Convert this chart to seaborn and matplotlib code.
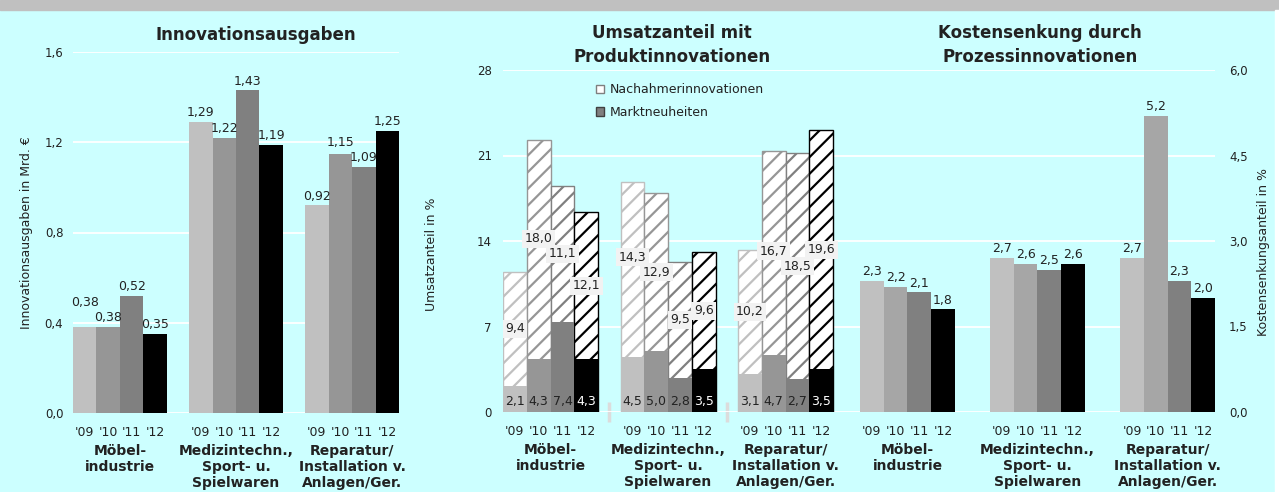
import matplotlib
matplotlib.use("Agg")
import matplotlib.pyplot as plt
import seaborn as sns
import pandas as pd
from matplotlib.patches import Patch, Rectangle
from matplotlib.ticker import FuncFormatter

# --- Daten ---
branchen = ["Möbel-\nindustrie", "Medizintechn.,\nSport- u.\nSpielwaren",
            "Reparatur/\nInstallation v.\nAnlagen/Ger."]
jahre = ["'09", "'10", "'11", "'12"]

# Innovationsausgaben in Mrd. €
inv_moebel = [0.38, 0.38, 0.52, 0.35]
inv_medizin = [1.29, 1.22, 1.43, 1.19]
inv_reparatur = [0.92, 1.15, 1.09, 1.25]

# Umsatzanteil in % (Marktneuheiten unten, Nachahmerinnovationen oben)
markt_moebel = [2.1, 4.3, 7.4, 4.3]
markt_medizin = [4.5, 5.0, 2.8, 3.5]
markt_reparatur = [3.1, 4.7, 2.7, 3.5]
nach_moebel = [9.4, 18.0, 11.1, 12.1]
nach_medizin = [14.3, 12.9, 9.5, 9.6]
nach_reparatur = [10.2, 16.7, 18.5, 19.6]

# Kostensenkungsanteil in %
kost_moebel = [2.3, 2.2, 2.1, 1.8]
kost_medizin = [2.7, 2.6, 2.5, 2.6]
kost_reparatur = [2.7, 5.2, 2.3, 2.0]

farben = ["#C0C0C0", "#969696", "#808080", "#000000"]
farben_rechts = ["#C0C0C0", "#A6A6A6", "#808080", "#000000"]
BG = "#CCFFFF"
TXT = "#222222"

plt.rcParams["font.family"] = ["DejaVu Sans"]
plt.rcParams["hatch.linewidth"] = 1.6


def long_df(**cols):
    rows = []
    for k, b in enumerate(branchen):
        for i, j in enumerate(jahre):
            row = {"branche": b, "jahr": j}
            for name, lists in cols.items():
                row[name] = lists[k][i]
            rows.append(row)
    return pd.DataFrame(rows)


def komma(v, nd=1):
    return f"{v:.{nd}f}".replace(".", ",")


def style_axis(ax):
    ax.set_facecolor("none")
    for s in ax.spines.values():
        s.set_visible(False)
    ax.set_axisbelow(True)
    ax.yaxis.grid(True, color="white", lw=1.3)
    ax.xaxis.grid(False)
    ax.set_xlabel("")
    ax.tick_params(axis="y", length=0, labelsize=8.5, labelcolor=TXT)
    ax.tick_params(axis="x", length=0, pad=22, labelsize=10, labelcolor=TXT)
    ax.set_xticks(range(len(branchen)))
    ax.set_xticklabels(branchen, fontweight="bold", linespacing=1.2)


def jahr_labels(ax, containers):
    for i, c in enumerate(containers):
        for p in c:
            ax.annotate(jahre[i], (p.get_x() + p.get_width() / 2, 0),
                        xycoords=("data", "axes fraction"), xytext=(0, -14),
                        textcoords="offset points", ha="center", va="center",
                        fontsize=9, color=TXT)


def entzerren(gruppen, rand=2):
    # Beschriftungen nebeneinanderliegender Balken vertikal auseinanderschieben
    fig.canvas.draw()
    r = fig.canvas.get_renderer()
    for gruppe in gruppen:
        for a, b in zip(gruppe[:-1], gruppe[1:]):
            ba = a.get_window_extent(r)
            bb = b.get_window_extent(r)
            if ba.x1 - bb.x0 <= -rand:
                continue
            ov = min(ba.y1, bb.y1) - max(ba.y0, bb.y0) + rand
            if ov <= 0:
                continue
            richtung = 1 if (ba.y0 + ba.y1) >= (bb.y0 + bb.y1) else -1
            dx, dy = a.xyann
            a.xyann = (dx, dy + richtung * ov * 72 / fig.dpi)


W, H = 1279, 492
fig = plt.figure(figsize=(W / 100, H / 100), dpi=100)
fig.patch.set_facecolor(BG)
fig.add_artist(Rectangle((0, 1 - 10 / H), 1, 10 / H, transform=fig.transFigure,
                         color="#C0C0C0", zorder=0))
fig.add_artist(Rectangle((1 - 4 / W, 0), 4 / W, 1 - 10 / H, transform=fig.transFigure,
                         color="white", zorder=0))

# --- Innovationsausgaben ---
df_inv = long_df(wert=[inv_moebel, inv_medizin, inv_reparatur])
ax1 = fig.add_axes([73 / W, (H - 413) / H, 326 / W, 361 / H])
sns.barplot(data=df_inv, x="branche", y="wert", hue="jahr", order=branchen,
            hue_order=jahre, palette=farben, width=0.81, gap=0, saturation=1,
            errorbar=None, legend=False, linewidth=0, ax=ax1)
style_axis(ax1)
ax1.set_ylim(0, 1.6)
ax1.set_xlim(-0.405, 2.405)
ax1.set_yticks([0, 0.4, 0.8, 1.2, 1.6])
ax1.yaxis.set_major_formatter(FuncFormatter(lambda v, _: komma(v)))
ax1.tick_params(axis="y", pad=7)
lab1 = []
for c in ax1.containers:
    lab1.append(ax1.bar_label(c, labels=[komma(v, 2) for v in c.datavalues],
                              padding=2, fontsize=9, color=TXT))
jahr_labels(ax1, ax1.containers)
ax1.set_ylabel("Innovationsausgaben in Mrd. €", fontsize=9, color=TXT)
ax1.yaxis.set_label_coords(-0.123, 0.5)

# --- Umsatzanteil mit Produktinnovationen ---
df_ums = long_df(markt=[markt_moebel, markt_medizin, markt_reparatur],
                 nach=[nach_moebel, nach_medizin, nach_reparatur])
df_ums["gesamt"] = df_ums["markt"] + df_ums["nach"]
ax2 = fig.add_axes([503 / W, (H - 412) / H, 341 / W, 342 / H])
sns.barplot(data=df_ums, x="branche", y="gesamt", hue="jahr", order=branchen,
            hue_order=jahre, palette=["white"] * 4, width=0.81, gap=0,
            saturation=1, errorbar=None, legend=False, ax=ax2)
for i, c in enumerate(ax2.containers):
    for p in c:
        p.set_facecolor("white")
        p.set_edgecolor(farben[i])
        p.set_linewidth(1.0)
        p.set_hatch("//")
sns.barplot(data=df_ums, x="branche", y="markt", hue="jahr", order=branchen,
            hue_order=jahre, palette=farben, width=0.81, gap=0, saturation=1,
            errorbar=None, legend=False, linewidth=0, ax=ax2)
style_axis(ax2)
ax2.set_ylim(0, 28)
ax2.set_xlim(-0.405, 2.497)
ax2.set_yticks([0, 7, 14, 21, 28])
ax2.tick_params(axis="y", pad=8)
ax2.set_xticks([0.5, 1.5], minor=True)
ax2.tick_params(axis="x", which="minor", length=14, width=2.5,
                color="#DCDCDC", direction="inout")

tot_c = ax2.containers[:4]
mk_c = ax2.containers[4:]
lab2 = []
for i in range(4):
    reihe = []
    for p_t, v_m, v_t in zip(tot_c[i], mk_c[i].datavalues, tot_c[i].datavalues):
        x = p_t.get_x() + p_t.get_width() / 2
        reihe.append(ax2.annotate(
            komma(v_t - v_m), (x, (v_m + v_t) / 2), xytext=(0, 0),
            textcoords="offset points", ha="center", va="center", fontsize=9,
            color=TXT, bbox=dict(boxstyle="square,pad=0.2", fc="#F2F2F2", ec="none")))
        ax2.annotate(komma(v_m), (x, 0), xytext=(0, 3), textcoords="offset points",
                     ha="center", va="bottom", fontsize=9,
                     color="white" if i == 3 else TXT)
    lab2.append(reihe)
jahr_labels(ax2, mk_c)
ax2.set_ylabel("Umsatzanteil in %", fontsize=9, color=TXT)
ax2.yaxis.set_label_coords(-0.191, 0.46)
ax2.legend(handles=[Patch(fc="white", ec="#7F7F7F", label="Nachahmerinnovationen"),
                    Patch(fc="#808080", ec="#404040", label="Marktneuheiten")],
           loc="upper left", bbox_to_anchor=(0.239, 0.994), frameon=False,
           fontsize=9, handlelength=0.7, handleheight=0.7, handletextpad=0.4,
           labelspacing=0.75, labelcolor=TXT)

# --- Kostensenkung durch Prozessinnovationen ---
df_kost = long_df(wert=[kost_moebel, kost_medizin, kost_reparatur])
ax3 = fig.add_axes([844 / W, (H - 412) / H, 371 / W, 342 / H])
sns.barplot(data=df_kost, x="branche", y="wert", hue="jahr", order=branchen,
            hue_order=jahre, palette=farben_rechts, width=0.73, gap=0,
            saturation=1, errorbar=None, legend=False, linewidth=0, ax=ax3)
style_axis(ax3)
ax3.set_ylim(0, 6)
ax3.set_xlim(-0.488, 2.365)
ax3.set_yticks([0, 1.5, 3.0, 4.5, 6.0])
ax3.yaxis.set_major_formatter(FuncFormatter(lambda v, _: komma(v)))
ax3.yaxis.tick_right()
ax3.tick_params(axis="y", pad=10)
lab3 = []
for c in ax3.containers:
    lab3.append(ax3.bar_label(c, labels=[komma(v) for v in c.datavalues],
                              padding=2, fontsize=9, color=TXT))
jahr_labels(ax3, ax3.containers)
ax3.yaxis.set_label_position("right")
ax3.set_ylabel("Kostensenkungsanteil in %", fontsize=9, color=TXT)
ax3.yaxis.set_label_coords(1.113, 0.468)

# --- Titel ---
fig.text(256 / W, 1 - 35 / H, "Innovationsausgaben", ha="center", va="center",
         fontsize=12, fontweight="bold", color=TXT)
fig.text(672 / W, 1 - 45 / H, "Umsatzanteil mit\nProduktinnovationen", ha="center",
         va="center", fontsize=12, fontweight="bold", color=TXT, linespacing=1.4)
fig.text(1040 / W, 1 - 45 / H, "Kostensenkung durch\nProzessinnovationen",
         ha="center", va="center", fontsize=12, fontweight="bold", color=TXT,
         linespacing=1.4)

# überlappende Werte-Beschriftungen auseinanderziehen
for labs in (lab1, lab2, lab3):
    entzerren([[labs[i][k] for i in range(4)] for k in range(len(branchen))])

fig.savefig("out.png", dpi=100, facecolor=fig.get_facecolor())
